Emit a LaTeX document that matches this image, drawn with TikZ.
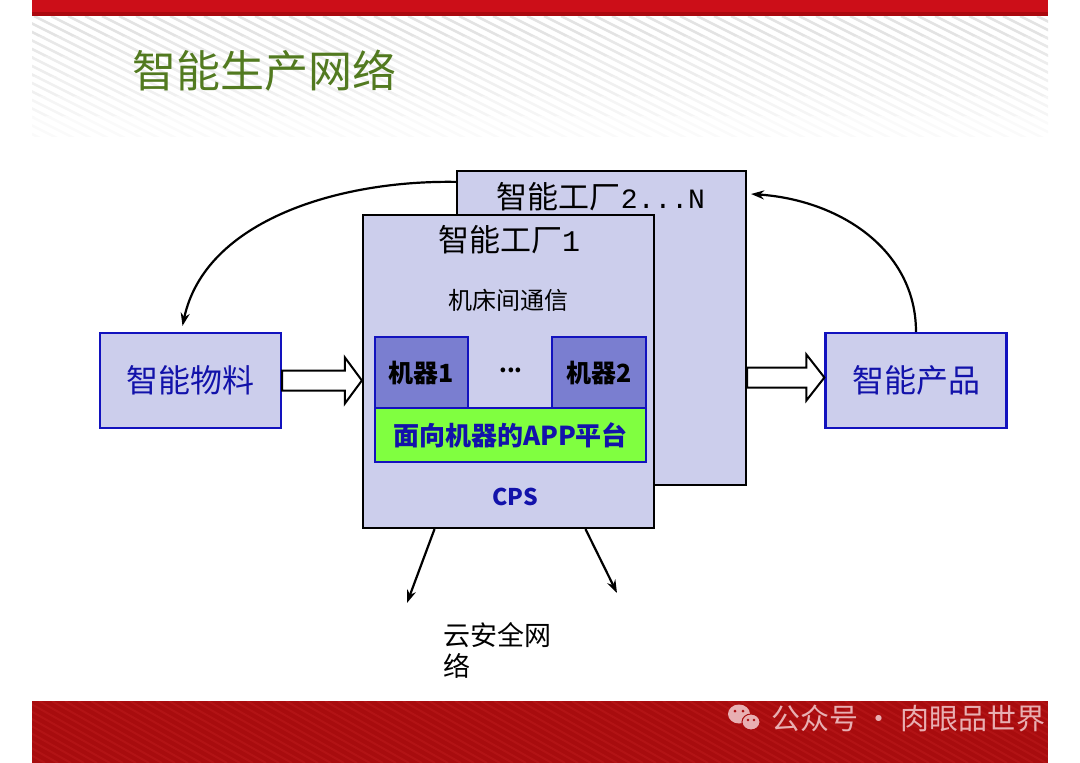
\documentclass[tikz,border=0pt]{standalone}
\usepackage{fontspec}
\setmainfont{Liberation Serif}
\newfontfamily\cjk{Noto Sans CJK SC}
\newfontfamily\lmono{Liberation Mono}
\usetikzlibrary{arrows.meta,calc}
\definecolor{lav}{RGB}{204,206,236}
\definecolor{machfill}{RGB}{122,126,208}
\definecolor{bborder}{RGB}{18,18,190}
\definecolor{appgreen}{RGB}{128,255,64}
\definecolor{tblue}{RGB}{18,18,170}
\definecolor{titlegreen}{RGB}{82,122,32}
\definecolor{redtop}{RGB}{204,14,24}
\definecolor{redtopdark}{RGB}{170,8,14}
\definecolor{redbot}{RGB}{168,12,14}
\definecolor{wmark}{RGB}{232,175,178}
\newcommand\fsz[1]{\fontsize{#1}{#1}\selectfont}
\tikzset{
  factory/.style={draw=black, line width=2.2pt, fill=lav, inner sep=0pt},
  sidebox/.style={draw=bborder, line width=2.2pt, fill=lav, inner sep=0pt,
     minimum width=181pt, minimum height=95pt, text=tblue, font=\cjk\fsz{32}},
  machine/.style={draw=bborder, line width=2.5pt, fill=machfill, inner sep=0pt,
     minimum height=71pt, font=\cjk\bfseries\fsz{25}},
  blockarrow/.style={draw=black, line width=2pt, fill=white, line join=miter},
  flow/.style={draw=black, line width=2.2pt, -{Stealth[length=13pt,width=9pt]}},
}
\begin{document}
\begin{tikzpicture}[x=1pt,y=-1pt]
\useasboundingbox (0,0) rectangle (1080,763);
% header stripes
\foreach \k/\c in {0/11,1/9,2/7,3/6,4/4,5/2}{
  \begin{scope}
    \clip (32,16+\k*20) rectangle (1048,36+\k*20);
    \foreach \i in {-16,...,62}{
      \draw[black!\c, line width=2.5pt] (\i*17,16) -- (\i*17+250,141);
    }
  \end{scope}
}
% top red band
\fill[redtop] (32,0) rectangle (1048,16);
\fill[redtopdark] (32,12) rectangle (1048,16);
% bottom red band
\fill[redbot] (32,701) rectangle (1048,763);
\begin{scope}
  \clip (32,701) rectangle (1048,763);
  \foreach \i in {-6,...,85}{
    \draw[red!70!white, opacity=0.12, line width=2pt] (\i*13,701) -- (\i*13+110,763);
  }
\end{scope}
% watermark
\fill[wmark] (739,714) ellipse [x radius=11, y radius=9.5];
\fill[wmark] (751,722) ellipse [x radius=9, y radius=8];
\draw[redbot, line width=1pt] (751,722) ellipse [x radius=9, y radius=8];
\fill[redbot] (735,711) circle (1.5) (743,711) circle (1.5) (748,720) circle (1.3) (754,720) circle (1.3);
\node[anchor=west, text=wmark, font=\cjk\fsz{29}, inner sep=0pt] (wm) at (771,718) {公众号 · 肉眼品世界};
% title
\node[anchor=west, text=titlegreen, font=\cjk\fsz{44}, inner sep=0pt] (title) at (132,71) {智能生产网络};
% factories
\node[factory, minimum width=289pt, minimum height=314pt] (f2) at (601.5,328) {};
\node[font=\cjk\fsz{31}, inner sep=0pt] (f2t) at (601,197) {智能工厂{\lmono\fsz{28}2...N}};
\node[factory, minimum width=291pt, minimum height=313pt] (f1) at (508.5,371.5) {};
\node[font=\cjk\fsz{31}, inner sep=0pt] (f1t) at (509,240) {智能工厂{\lmono\fsz{30}1}};
\node[font=\cjk\fsz{24}, inner sep=0pt] (comm) at (508,300) {机床间通信};
\node[machine, minimum width=93pt] (m1) at (421.5,372.5) {机器1};
\node[machine, minimum width=94pt] (m2) at (599,372.5) {机器2};
\node[font=\cjk\bfseries\fsz{22}, inner sep=0pt] (dots) at (511,370) {...};
\node[draw=bborder, line width=2.5pt, fill=appgreen, inner sep=0pt,
      minimum width=271pt, minimum height=54pt, text=tblue,
      font=\cjk\bfseries\fsz{26}] (app) at (510.5,435) {面向机器的APP平台};
\node[text=tblue, font=\cjk\bfseries\fsz{23}, inner sep=0pt] (cps) at (515,497) {CPS};
% side boxes
\node[sidebox] (mat) at (190.5,380.5) {智能物料};
\node[sidebox] (prod) at (916,380.5) {智能产品};
% block arrows
\coordinate (la) at (mat.east);
\coordinate (lt) at (f1.west |- mat.east);
\draw[blockarrow] ($(la)+(0,-10)$) -- ($(lt)+(-17,-10)$) -- ($(lt)+(-17,-23)$) -- (lt)
  -- ($(lt)+(-17,23)$) -- ($(lt)+(-17,10)$) -- ($(la)+(0,10)$) -- cycle;
\coordinate (ra) at ($(f2.east |- prod.west)+(0,-3)$);
\coordinate (rt) at ($(prod.west)+(0,-3)$);
\draw[blockarrow] ($(ra)+(0,-10)$) -- ($(rt)+(-18,-10)$) -- ($(rt)+(-18,-23)$) -- (rt)
  -- ($(rt)+(-18,23)$) -- ($(rt)+(-18,10)$) -- ($(ra)+(0,10)$) -- cycle;
% curved arrows
\draw[flow] ($(f2.north west)+(0,12)$) .. controls (340,180) and (205,220) .. ($(mat.north)+(-8,-6)$);
\draw[flow] (prod.north) .. controls (916,250) and (840,200) .. ($(f2.east)+(4,-134)$);
% cloud arrows
\coordinate (c1) at (407,603);
\coordinate (c2) at (617,593);
\draw[flow] ($(f1.south)+(-74,0)$) -- (c1);
\draw[flow] ($(f1.south)+(77,0)$) -- (c2);
\node[anchor=north west, font=\cjk\fontsize{27}{31}\selectfont, inner sep=0pt, align=left] (cloud) at (443,622) {云安全网\\络};
\end{tikzpicture}
\end{document}
